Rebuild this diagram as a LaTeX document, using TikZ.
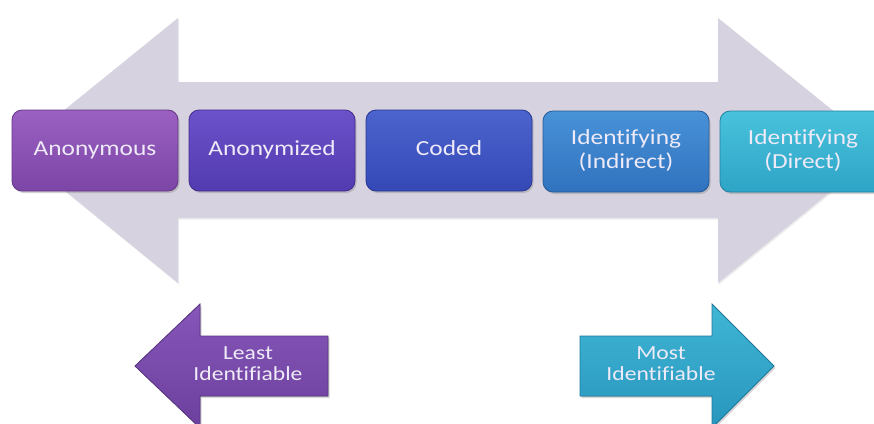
\documentclass[tikz,border=0pt]{standalone}
\usepackage{fontspec}
\setmainfont{Carlito}[Ligatures=NoCommon]
\usetikzlibrary{shadows}
\definecolor{arrowgrey}{RGB}{214,210,223}
\definecolor{txt}{RGB}{238,234,247}
\definecolor{anT}{RGB}{154,96,194}\definecolor{anB}{RGB}{124,70,166}\definecolor{anD}{RGB}{100,55,135}
\definecolor{azT}{RGB}{108,82,202}\definecolor{azB}{RGB}{82,58,176}\definecolor{azD}{RGB}{66,45,140}
\definecolor{coT}{RGB}{76,100,206}\definecolor{coB}{RGB}{52,72,182}\definecolor{coD}{RGB}{40,56,145}
\definecolor{inT}{RGB}{72,146,216}\definecolor{inB}{RGB}{48,114,190}\definecolor{inD}{RGB}{36,90,150}
\definecolor{diT}{RGB}{72,194,220}\definecolor{diB}{RGB}{46,164,198}\definecolor{diD}{RGB}{34,130,160}
\definecolor{leT}{RGB}{134,86,184}\definecolor{leB}{RGB}{108,64,158}\definecolor{leD}{RGB}{88,52,130}
\definecolor{moT}{RGB}{64,182,212}\definecolor{moB}{RGB}{40,150,190}\definecolor{moD}{RGB}{30,120,155}
\newcommand\wtext[1]{\scalebox{1.18}[1]{\begin{tabular}{@{}c@{}}#1\end{tabular}}}
\begin{document}
\begin{tikzpicture}[x=1pt,y=-1pt,
  stage/.style={rectangle, rounded corners=10pt, minimum width=166pt, minimum height=81pt,
    inner sep=0pt, line width=0.8pt, text=txt,
    font=\fontsize{21.5}{24}\selectfont,
    drop shadow={opacity=0.35, shadow xshift=1.5pt, shadow yshift=-2pt}},
  smallarrow/.style={line width=0.8pt,
    drop shadow={opacity=0.3, shadow xshift=1.5pt, shadow yshift=-2pt}},
  smalltext/.style={text=txt, inner sep=0pt, font=\fontsize{20}{21}\selectfont}]
\useasboundingbox (0,0) rectangle (874,423);
\clip (0,0) rectangle (874,423);
\fill[white] (0,0) rectangle (874,423);
% big double arrow
\fill[arrowgrey, drop shadow={opacity=0.15, shadow xshift=1pt, shadow yshift=-1.5pt}]
  (15,150) -- (178,18) -- (178,82) -- (718,82) -- (718,18) -- (882,150)
  -- (718,283) -- (718,218) -- (178,218) -- (178,283) -- cycle;
% stages
\node[stage, top color=anT, bottom color=anB, draw=anD] (anon) at (95,150.5) {\wtext{Anonymous}};
\node[stage, top color=azT, bottom color=azB, draw=azD] (anz) at (272,150.5) {\wtext{Anonymized}};
\node[stage, top color=coT, bottom color=coB, draw=coD] (coded) at (449,150.5) {\wtext{Coded}};
\node[stage, top color=inT, bottom color=inB, draw=inD] (ind) at (626,151.5) {\wtext{Identifying\\(Indirect)}};
\node[stage, top color=diT, bottom color=diB, draw=diD] (dir) at (803,151.5) {\wtext{Identifying\\(Direct)}};
% small arrows
\filldraw[smallarrow, top color=leT, bottom color=leB, draw=leD]
  (135,366) -- (200,304) -- (200,336) -- (328,336) -- (328,396) -- (200,396) -- (200,428) -- cycle;
\node[smalltext] (least) at (248,366) {\wtext{Least\\Identifiable}};
\filldraw[smallarrow, top color=moT, bottom color=moB, draw=moD]
  (580,336) -- (712,336) -- (712,304) -- (774,366) -- (712,428) -- (712,396) -- (580,396) -- cycle;
\node[smalltext] (most) at (661,366) {\wtext{Most\\Identifiable}};
\end{tikzpicture}
\end{document}
